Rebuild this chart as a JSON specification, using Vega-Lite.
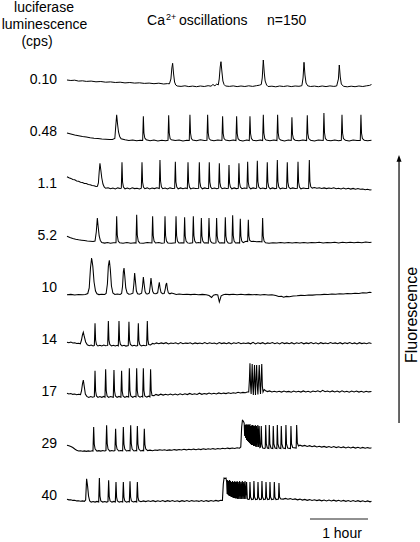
{
"$schema": "https://vega.github.io/schema/vega-lite/v6.json",
"width": 420, "height": 542, "autosize": {"type": "none"}, "padding": 0,
"config": {"view": {"stroke": null}, "text": {"font": "Liberation Sans", "fontSize": 14, "color": "#000"}},
"datasets": {
"labels": [{"k":0,"name":"0.10"},{"k":1,"name":"0.48"},{"k":2,"name":"1.1"},{"k":3,"name":"5.2"},{"k":4,"name":"10"},{"k":5,"name":"14"},{"k":6,"name":"17"},{"k":7,"name":"29"},{"k":8,"name":"40"}],
"traces": [
{"k":0,"t":0,"f":8},{"k":0,"t":4,"f":7.5},{"k":0,"t":8,"f":7.8},{"k":0,"t":12,"f":6.9},{"k":0,"t":16,"f":7.2},{"k":0,"t":20,"f":6.6},{"k":0,"t":25,"f":6.9},{"k":0,"t":30,"f":6.2},{"k":0,"t":35,"f":6.5},{"k":0,"t":40,"f":5.8},{"k":0,"t":45,"f":6.1},{"k":0,"t":50,"f":5.5},{"k":0,"t":55,"f":5.8},{"k":0,"t":60,"f":5.1},{"k":0,"t":65,"f":5.5},{"k":0,"t":70,"f":4.9},{"k":0,"t":75,"f":5.2},{"k":0,"t":80,"f":4.6},{"k":0,"t":85,"f":4.9},{"k":0,"t":90,"f":4.3},{"k":0,"t":95,"f":4.8},{"k":0,"t":100,"f":4.0},{"k":0,"t":104,"f":4.4},{"k":0,"t":106,"f":4.2},{"k":0,"t":107.5,"f":9},{"k":0,"t":108.5,"f":20},{"k":0,"t":109.3,"f":24.7},{"k":0,"t":110.3,"f":14},{"k":0,"t":111.3,"f":6},{"k":0,"t":112.5,"f":3},{"k":0,"t":114,"f":2},{"k":0,"t":118,"f":1.6},{"k":0,"t":122,"f":2.2},{"k":0,"t":126,"f":1.4},{"k":0,"t":130,"f":1.9},{"k":0,"t":134,"f":1.3},{"k":0,"t":138,"f":2},{"k":0,"t":142,"f":1.5},{"k":0,"t":146,"f":2.3},{"k":0,"t":149,"f":1.8},{"k":0,"t":151,"f":3.5},{"k":0,"t":153,"f":2.2},{"k":0,"t":155,"f":4},{"k":0,"t":156.5,"f":3},{"k":0,"t":157.5,"f":9},{"k":0,"t":158.5,"f":21},{"k":0,"t":159.3,"f":26.3},{"k":0,"t":160.3,"f":16},{"k":0,"t":161.3,"f":7},{"k":0,"t":162.5,"f":3.5},{"k":0,"t":164,"f":2},{"k":0,"t":168,"f":1.6},{"k":0,"t":172,"f":2.1},{"k":0,"t":176,"f":1.4},{"k":0,"t":180,"f":2},{"k":0,"t":184,"f":1.5},{"k":0,"t":188,"f":2.2},{"k":0,"t":192,"f":1.6},{"k":0,"t":196,"f":2.3},{"k":0,"t":199,"f":2.8},{"k":0,"t":201,"f":3.5},{"k":0,"t":202,"f":10},{"k":0,"t":203.1,"f":28},{"k":0,"t":204.1,"f":15},{"k":0,"t":205,"f":7},{"k":0,"t":206.5,"f":3},{"k":0,"t":208,"f":1.5},{"k":0,"t":212,"f":1.8},{"k":0,"t":216,"f":1.2},{"k":0,"t":220,"f":2},{"k":0,"t":224,"f":1.5},{"k":0,"t":228,"f":2.1},{"k":0,"t":232,"f":1.4},{"k":0,"t":236,"f":2},{"k":0,"t":240,"f":1.7},{"k":0,"t":243,"f":2.3},{"k":0,"t":244.2,"f":10},{"k":0,"t":245.2,"f":25.7},{"k":0,"t":246.2,"f":13},{"k":0,"t":247.3,"f":5},{"k":0,"t":249,"f":2.2},{"k":0,"t":252,"f":1.5},{"k":0,"t":256,"f":1.9},{"k":0,"t":260,"f":1.3},{"k":0,"t":264,"f":2},{"k":0,"t":268,"f":1.4},{"k":0,"t":272,"f":2.1},{"k":0,"t":276,"f":1.6},{"k":0,"t":279,"f":2},{"k":0,"t":280.8,"f":9},{"k":0,"t":281.7,"f":23},{"k":0,"t":282.7,"f":11},{"k":0,"t":283.8,"f":4},{"k":0,"t":286,"f":1.7},{"k":0,"t":290,"f":1.2},{"k":0,"t":294,"f":1.8},{"k":0,"t":298,"f":1.3},{"k":0,"t":302,"f":2},{"k":0,"t":306,"f":1.5},{"k":0,"t":310,"f":2.2},{"k":0,"t":313,"f":2.6},{"k":0,"t":315,"f":3.5},

{"k":1,"t":0,"f":7},{"k":1,"t":4,"f":6},{"k":1,"t":8,"f":5},{"k":1,"t":12,"f":4.3},{"k":1,"t":16,"f":3.4},{"k":1,"t":20,"f":2.9},{"k":1,"t":24,"f":2.2},{"k":1,"t":28,"f":1.7},{"k":1,"t":32,"f":1.4},{"k":1,"t":36,"f":0.9},{"k":1,"t":40,"f":0.7},{"k":1,"t":44,"f":0.4},{"k":1,"t":47,"f":0.6},{"k":1,"t":49.5,"f":1.5},{"k":1,"t":50.3,"f":12},{"k":1,"t":51.4,"f":25.3},{"k":1,"t":52.3,"f":16},{"k":1,"t":53.3,"f":8},{"k":1,"t":54.5,"f":3.5},{"k":1,"t":56,"f":1.2},{"k":1,"t":60,"f":0.2},{"k":1,"t":64,"f":-0.6},{"k":1,"t":68,"f":0.1},{"k":1,"t":72,"f":-0.8},{"k":1,"t":76,"f":-0.2},{"k":1,"t":78.3,"f":-0.5},{"k":1,"t":79,"f":23.7},{"k":1,"t":79.6,"f":7},{"k":1,"t":80.5,"f":2},{"k":1,"t":82,"f":0.3},{"k":1,"t":86,"f":-0.8},{"k":1,"t":90,"f":0},{"k":1,"t":94,"f":-0.9},{"k":1,"t":98,"f":-0.2},{"k":1,"t":102,"f":-0.7},{"k":1,"t":104.5,"f":-0.3},{"k":1,"t":105.2,"f":24.7},{"k":1,"t":105.8,"f":7},{"k":1,"t":106.7,"f":1.5},{"k":1,"t":108,"f":0.2},{"k":1,"t":112,"f":-0.6},{"k":1,"t":116,"f":0.1},{"k":1,"t":120,"f":-0.9},{"k":1,"t":124,"f":-0.2},{"k":1,"t":126.5,"f":-0.5},{"k":1,"t":127.2,"f":25.3},{"k":1,"t":127.8,"f":7},{"k":1,"t":128.7,"f":1.5},{"k":1,"t":130,"f":0},{"k":1,"t":134,"f":-0.7},{"k":1,"t":138,"f":0.2},{"k":1,"t":142,"f":-0.6},{"k":1,"t":144.8,"f":-0.2},{"k":1,"t":145.5,"f":25.3},{"k":1,"t":146.1,"f":7},{"k":1,"t":147,"f":1.5},{"k":1,"t":148.5,"f":0},{"k":1,"t":152,"f":-0.7},{"k":1,"t":156,"f":0.1},{"k":1,"t":160.3,"f":-0.5},{"k":1,"t":161,"f":23.7},{"k":1,"t":161.6,"f":6.5},{"k":1,"t":162.5,"f":1.5},{"k":1,"t":164,"f":0},{"k":1,"t":168,"f":-0.8},{"k":1,"t":172,"f":-0.1},{"k":1,"t":174.8,"f":-0.6},{"k":1,"t":175.5,"f":23.7},{"k":1,"t":176.1,"f":6.5},{"k":1,"t":177,"f":1.3},{"k":1,"t":178.5,"f":-0.2},{"k":1,"t":182,"f":-0.9},{"k":1,"t":186,"f":0},{"k":1,"t":188.6,"f":-0.6},{"k":1,"t":189.3,"f":23.7},{"k":1,"t":189.9,"f":6.5},{"k":1,"t":190.8,"f":1.4},{"k":1,"t":192.3,"f":-0.2},{"k":1,"t":196,"f":-0.8},{"k":1,"t":200,"f":0.1},{"k":1,"t":202.4,"f":-0.5},{"k":1,"t":203.1,"f":25.3},{"k":1,"t":203.7,"f":7},{"k":1,"t":204.6,"f":1.5},{"k":1,"t":206,"f":0},{"k":1,"t":210,"f":-0.7},{"k":1,"t":214,"f":0.1},{"k":1,"t":217.2,"f":-0.6},{"k":1,"t":217.9,"f":25.3},{"k":1,"t":218.5,"f":7},{"k":1,"t":219.4,"f":1.5},{"k":1,"t":221,"f":-0.1},{"k":1,"t":225,"f":-0.9},{"k":1,"t":229,"f":0},{"k":1,"t":232,"f":-0.5},{"k":1,"t":232.7,"f":22.7},{"k":1,"t":233.3,"f":6},{"k":1,"t":234.2,"f":1.3},{"k":1,"t":236,"f":-0.2},{"k":1,"t":240,"f":-0.8},{"k":1,"t":244,"f":0.1},{"k":1,"t":247.9,"f":-0.6},{"k":1,"t":248.6,"f":24.7},{"k":1,"t":249.2,"f":6.5},{"k":1,"t":250.1,"f":1.4},{"k":1,"t":252,"f":-0.2},{"k":1,"t":256,"f":-0.9},{"k":1,"t":260,"f":0},{"k":1,"t":265.1,"f":-0.5},{"k":1,"t":265.8,"f":27},{"k":1,"t":266.4,"f":7.5},{"k":1,"t":267.3,"f":1.5},{"k":1,"t":269,"f":-0.2},{"k":1,"t":273,"f":-0.8},{"k":1,"t":277,"f":0},{"k":1,"t":281,"f":-0.7},{"k":1,"t":283.8,"f":-0.3},{"k":1,"t":284.5,"f":25.3},{"k":1,"t":285.1,"f":7},{"k":1,"t":286,"f":1.4},{"k":1,"t":288,"f":-0.2},{"k":1,"t":292,"f":-0.9},{"k":1,"t":296,"f":0},{"k":1,"t":300,"f":-0.6},{"k":1,"t":303.4,"f":-0.4},{"k":1,"t":304.1,"f":25.3},{"k":1,"t":304.7,"f":7},{"k":1,"t":305.6,"f":1.4},{"k":1,"t":307.5,"f":-0.2},{"k":1,"t":311,"f":-0.7},{"k":1,"t":315,"f":-0.3},

{"k":2,"t":0,"f":15.3},{"k":2,"t":2,"f":14.3},{"k":2,"t":4,"f":13.6},{"k":2,"t":6,"f":12.6},{"k":2,"t":8,"f":12.2},{"k":2,"t":10,"f":11.1},{"k":2,"t":12,"f":10.8},{"k":2,"t":14,"f":9.8},{"k":2,"t":16,"f":9.5},{"k":2,"t":18,"f":8.6},{"k":2,"t":20,"f":8.4},{"k":2,"t":22,"f":7.5},{"k":2,"t":24,"f":7.3},{"k":2,"t":26,"f":6.5},{"k":2,"t":28,"f":6.3},{"k":2,"t":30,"f":5.5},{"k":2,"t":31.5,"f":5.8},{"k":2,"t":32.5,"f":9},{"k":2,"t":33.3,"f":20},{"k":2,"t":34.1,"f":28.7},{"k":2,"t":35,"f":22},{"k":2,"t":36,"f":14},{"k":2,"t":37.2,"f":8},{"k":2,"t":38.5,"f":5},{"k":2,"t":40,"f":3.7},{"k":2,"t":42.5,"f":4.2},{"k":2,"t":45,"f":3.3},{"k":2,"t":47.5,"f":3.9},{"k":2,"t":50,"f":3.1},{"k":2,"t":52.5,"f":4.1},{"k":2,"t":55,"f":3.5},{"k":2,"t":56.2,"f":3.8},{"k":2,"t":56.9,"f":29.7},{"k":2,"t":57.5,"f":10},{"k":2,"t":58.4,"f":5},{"k":2,"t":60,"f":3.2},{"k":2,"t":62.5,"f":4},{"k":2,"t":65,"f":3},{"k":2,"t":67.5,"f":4.2},{"k":2,"t":70,"f":3.4},{"k":2,"t":72.5,"f":3.8},{"k":2,"t":75,"f":3.1},{"k":2,"t":76.9,"f":3.8},{"k":2,"t":77.6,"f":29.7},{"k":2,"t":78.2,"f":10},{"k":2,"t":79.1,"f":5},{"k":2,"t":80.5,"f":3.3},{"k":2,"t":83,"f":4.1},{"k":2,"t":85.5,"f":3.1},{"k":2,"t":88,"f":3.9},{"k":2,"t":90.5,"f":3.4},{"k":2,"t":93,"f":4.2},{"k":2,"t":95.5,"f":3.5},{"k":2,"t":96.2,"f":32},{"k":2,"t":96.8,"f":11},{"k":2,"t":97.7,"f":5.2},{"k":2,"t":99,"f":3.3},{"k":2,"t":101.5,"f":4},{"k":2,"t":104,"f":3.1},{"k":2,"t":106.5,"f":4.1},{"k":2,"t":109,"f":3.4},{"k":2,"t":111.4,"f":3.6},{"k":2,"t":112.1,"f":30.3},{"k":2,"t":112.7,"f":10},{"k":2,"t":113.6,"f":5},{"k":2,"t":115,"f":3.2},{"k":2,"t":117.5,"f":4.1},{"k":2,"t":120,"f":3.3},{"k":2,"t":122.5,"f":3.9},{"k":2,"t":124.5,"f":3.4},{"k":2,"t":125.2,"f":29.7},{"k":2,"t":125.8,"f":10},{"k":2,"t":126.7,"f":5},{"k":2,"t":128,"f":3.1},{"k":2,"t":130.5,"f":4},{"k":2,"t":133,"f":3.4},{"k":2,"t":136.2,"f":3.8},{"k":2,"t":136.9,"f":29.7},{"k":2,"t":137.5,"f":10},{"k":2,"t":138.4,"f":5},{"k":2,"t":140,"f":3.2},{"k":2,"t":142.5,"f":4.1},{"k":2,"t":144.5,"f":3.5},{"k":2,"t":146.5,"f":3.6},{"k":2,"t":147.2,"f":29.7},{"k":2,"t":147.8,"f":10},{"k":2,"t":148.7,"f":5},{"k":2,"t":150,"f":3.3},{"k":2,"t":152.5,"f":4},{"k":2,"t":155,"f":3.2},{"k":2,"t":156.9,"f":3.8},{"k":2,"t":157.6,"f":28.7},{"k":2,"t":158.2,"f":9.5},{"k":2,"t":159.1,"f":5},{"k":2,"t":160.5,"f":3.3},{"k":2,"t":163,"f":3.9},{"k":2,"t":165,"f":3.4},{"k":2,"t":166.9,"f":3.7},{"k":2,"t":167.6,"f":27},{"k":2,"t":168.2,"f":9},{"k":2,"t":169.1,"f":5},{"k":2,"t":170.5,"f":3.2},{"k":2,"t":173,"f":4.1},{"k":2,"t":175,"f":3.4},{"k":2,"t":177.2,"f":3.8},{"k":2,"t":177.9,"f":28.7},{"k":2,"t":178.5,"f":9.5},{"k":2,"t":179.4,"f":5},{"k":2,"t":181,"f":3.3},{"k":2,"t":183.5,"f":4},{"k":2,"t":186.2,"f":3.5},{"k":2,"t":186.9,"f":30.3},{"k":2,"t":187.5,"f":10},{"k":2,"t":188.4,"f":5},{"k":2,"t":190,"f":3.2},{"k":2,"t":192.5,"f":4.1},{"k":2,"t":195.2,"f":3.5},{"k":2,"t":196.2,"f":3.8},{"k":2,"t":196.9,"f":31.3},{"k":2,"t":197.5,"f":10.5},{"k":2,"t":198.4,"f":5},{"k":2,"t":200,"f":3.3},{"k":2,"t":202.5,"f":4},{"k":2,"t":205,"f":3.4},{"k":2,"t":206.5,"f":3.7},{"k":2,"t":207.2,"f":29.7},{"k":2,"t":207.8,"f":10},{"k":2,"t":208.7,"f":5},{"k":2,"t":210.2,"f":3.2},{"k":2,"t":212.7,"f":4.1},{"k":2,"t":215,"f":3.4},{"k":2,"t":216.9,"f":3.7},{"k":2,"t":217.6,"f":32},{"k":2,"t":218.2,"f":10.5},{"k":2,"t":219.1,"f":5},{"k":2,"t":220.6,"f":3.2},{"k":2,"t":223,"f":4},{"k":2,"t":225.5,"f":3.5},{"k":2,"t":227.2,"f":3.8},{"k":2,"t":227.9,"f":29.7},{"k":2,"t":228.5,"f":10},{"k":2,"t":229.4,"f":5},{"k":2,"t":231,"f":3.3},{"k":2,"t":233.5,"f":4.1},{"k":2,"t":236,"f":3.4},{"k":2,"t":238.3,"f":3.7},{"k":2,"t":239,"f":30.3},{"k":2,"t":239.6,"f":10},{"k":2,"t":240.5,"f":5},{"k":2,"t":242,"f":3.2},{"k":2,"t":244.5,"f":4},{"k":2,"t":247,"f":3.4},{"k":2,"t":250,"f":3.6},{"k":2,"t":250.7,"f":32},{"k":2,"t":251.3,"f":10.5},{"k":2,"t":252.2,"f":5.2},{"k":2,"t":253.7,"f":3.9},{"k":2,"t":256,"f":4.5},{"k":2,"t":258.5,"f":3.8},{"k":2,"t":261,"f":4.3},{"k":2,"t":263.5,"f":3.6},{"k":2,"t":266,"f":4.1},{"k":2,"t":268.5,"f":3.4},{"k":2,"t":271,"f":4},{"k":2,"t":273.5,"f":3.5},{"k":2,"t":276,"f":4.2},{"k":2,"t":278.5,"f":3.3},{"k":2,"t":281,"f":3.8},{"k":2,"t":283.5,"f":3.1},{"k":2,"t":286,"f":3.9},{"k":2,"t":288.5,"f":3},{"k":2,"t":291,"f":3.7},{"k":2,"t":293.5,"f":2.9},{"k":2,"t":296,"f":3.6},{"k":2,"t":298.5,"f":2.7},{"k":2,"t":301,"f":3.4},{"k":2,"t":303.5,"f":2.8},{"k":2,"t":306,"f":3.1},{"k":2,"t":308.5,"f":2.3},{"k":2,"t":311,"f":2.7},{"k":2,"t":313.5,"f":2},{"k":2,"t":315,"f":2.2},

{"k":3,"t":0,"f":7.7},{"k":3,"t":3,"f":6.5},{"k":3,"t":6,"f":5.6},{"k":3,"t":9,"f":4.8},{"k":3,"t":12,"f":4.2},{"k":3,"t":15,"f":3.8},{"k":3,"t":18,"f":3.4},{"k":3,"t":21,"f":3},{"k":3,"t":24,"f":2.8},{"k":3,"t":27,"f":2.6},{"k":3,"t":29,"f":2.9},{"k":3,"t":30.3,"f":12},{"k":3,"t":31.4,"f":26},{"k":3,"t":32.3,"f":17},{"k":3,"t":33.3,"f":8},{"k":3,"t":34.5,"f":3.5},{"k":3,"t":36,"f":1.5},{"k":3,"t":39,"f":0.9},{"k":3,"t":42,"f":1.4},{"k":3,"t":45,"f":0.8},{"k":3,"t":48,"f":1.3},{"k":3,"t":50.7,"f":1.2},{"k":3,"t":51.4,"f":27.7},{"k":3,"t":52,"f":9},{"k":3,"t":53,"f":3},{"k":3,"t":54.5,"f":1.2},{"k":3,"t":58,"f":0.8},{"k":3,"t":62,"f":1.4},{"k":3,"t":66,"f":0.7},{"k":3,"t":70,"f":1.3},{"k":3,"t":71.4,"f":1},{"k":3,"t":72.1,"f":29.3},{"k":3,"t":72.7,"f":9},{"k":3,"t":73.7,"f":3},{"k":3,"t":75.2,"f":1.1},{"k":3,"t":79,"f":0.7},{"k":3,"t":83,"f":1.4},{"k":3,"t":87.9,"f":1},{"k":3,"t":88.6,"f":27.7},{"k":3,"t":89.2,"f":8.5},{"k":3,"t":90.1,"f":3},{"k":3,"t":91.6,"f":1},{"k":3,"t":95,"f":1.4},{"k":3,"t":98,"f":0.7},{"k":3,"t":100.7,"f":1.1},{"k":3,"t":101.4,"f":27.7},{"k":3,"t":102,"f":8.5},{"k":3,"t":102.9,"f":3},{"k":3,"t":104.4,"f":1.1},{"k":3,"t":108,"f":0.8},{"k":3,"t":112.1,"f":1.2},{"k":3,"t":112.8,"f":27.7},{"k":3,"t":113.4,"f":8.5},{"k":3,"t":114.3,"f":3},{"k":3,"t":115.8,"f":1},{"k":3,"t":119,"f":1.3},{"k":3,"t":121,"f":1},{"k":3,"t":121.7,"f":26.7},{"k":3,"t":122.3,"f":8},{"k":3,"t":123.2,"f":3},{"k":3,"t":124.7,"f":1.1},{"k":3,"t":127,"f":0.7},{"k":3,"t":130,"f":1.2},{"k":3,"t":130.7,"f":27.7},{"k":3,"t":131.3,"f":8.5},{"k":3,"t":132.2,"f":3},{"k":3,"t":133.7,"f":1},{"k":3,"t":136,"f":1.4},{"k":3,"t":138.3,"f":1},{"k":3,"t":139,"f":26},{"k":3,"t":139.6,"f":8},{"k":3,"t":140.5,"f":3},{"k":3,"t":142,"f":1},{"k":3,"t":144,"f":1.3},{"k":3,"t":146.2,"f":0.9},{"k":3,"t":146.9,"f":26},{"k":3,"t":147.5,"f":8},{"k":3,"t":148.4,"f":3},{"k":3,"t":149.9,"f":1.2},{"k":3,"t":152,"f":0.8},{"k":3,"t":154.1,"f":1.1},{"k":3,"t":154.8,"f":26},{"k":3,"t":155.4,"f":8},{"k":3,"t":156.3,"f":3},{"k":3,"t":157.8,"f":1},{"k":3,"t":160,"f":1.3},{"k":3,"t":163.1,"f":1},{"k":3,"t":163.8,"f":26.7},{"k":3,"t":164.4,"f":8},{"k":3,"t":165.3,"f":3},{"k":3,"t":166.8,"f":1.1},{"k":3,"t":169,"f":0.8},{"k":3,"t":170.7,"f":1.2},{"k":3,"t":171.4,"f":28.7},{"k":3,"t":172,"f":8.5},{"k":3,"t":172.9,"f":3},{"k":3,"t":174.4,"f":1},{"k":3,"t":177,"f":1.3},{"k":3,"t":178.6,"f":1},{"k":3,"t":179.3,"f":25.3},{"k":3,"t":179.9,"f":8},{"k":3,"t":180.8,"f":3},{"k":3,"t":182.3,"f":1.3},{"k":3,"t":184,"f":2.2},{"k":3,"t":185.5,"f":2.8},{"k":3,"t":186.9,"f":2.5},{"k":3,"t":187.6,"f":24.3},{"k":3,"t":188.2,"f":8},{"k":3,"t":189.1,"f":3.5},{"k":3,"t":190.6,"f":2.5},{"k":3,"t":193,"f":2.8},{"k":3,"t":196,"f":2.2},{"k":3,"t":199,"f":2.4},{"k":3,"t":201.7,"f":2},{"k":3,"t":202.4,"f":26},{"k":3,"t":203,"f":8},{"k":3,"t":203.9,"f":3},{"k":3,"t":205.4,"f":1.2},{"k":3,"t":209,"f":0.8},{"k":3,"t":213,"f":1.3},{"k":3,"t":217,"f":0.9},{"k":3,"t":221,"f":1.4},{"k":3,"t":225,"f":1},{"k":3,"t":229,"f":1.5},{"k":3,"t":233,"f":1},{"k":3,"t":237,"f":1.4},{"k":3,"t":241,"f":0.9},{"k":3,"t":245,"f":1.5},{"k":3,"t":249,"f":1.1},{"k":3,"t":253,"f":1.6},{"k":3,"t":257,"f":1.2},{"k":3,"t":261,"f":1.7},{"k":3,"t":265,"f":1.1},{"k":3,"t":269,"f":1.6},{"k":3,"t":273,"f":1.2},{"k":3,"t":277,"f":1.7},{"k":3,"t":281,"f":1.1},{"k":3,"t":285,"f":1.8},{"k":3,"t":289,"f":1.3},{"k":3,"t":293,"f":1.7},{"k":3,"t":297,"f":1.2},{"k":3,"t":301,"f":1.8},{"k":3,"t":305,"f":1.3},{"k":3,"t":309,"f":1.9},{"k":3,"t":313,"f":1.5},{"k":3,"t":315,"f":1.8},

{"k":4,"t":0,"f":1.3},{"k":4,"t":4,"f":1.6},{"k":4,"t":8,"f":1.1},{"k":4,"t":12,"f":1.5},{"k":4,"t":16,"f":1.2},{"k":4,"t":19,"f":1.6},{"k":4,"t":21.5,"f":2.5},{"k":4,"t":23,"f":8},{"k":4,"t":24.3,"f":28},{"k":4,"t":25.5,"f":38},{"k":4,"t":26.7,"f":30},{"k":4,"t":28,"f":14},{"k":4,"t":29.5,"f":5},{"k":4,"t":31,"f":2.2},{"k":4,"t":33,"f":1.4},{"k":4,"t":36,"f":1.8},{"k":4,"t":39,"f":1.5},{"k":4,"t":40.5,"f":2.5},{"k":4,"t":41.8,"f":12},{"k":4,"t":42.8,"f":30},{"k":4,"t":43.8,"f":35.7},{"k":4,"t":44.8,"f":27},{"k":4,"t":46,"f":10},{"k":4,"t":47.5,"f":3},{"k":4,"t":49.5,"f":1.6},{"k":4,"t":52,"f":1.9},{"k":4,"t":55,"f":1.6},{"k":4,"t":56.5,"f":2.5},{"k":4,"t":57.5,"f":10},{"k":4,"t":58.3,"f":24},{"k":4,"t":59,"f":28},{"k":4,"t":59.8,"f":20},{"k":4,"t":60.8,"f":8},{"k":4,"t":62.2,"f":3},{"k":4,"t":64,"f":1.8},{"k":4,"t":66,"f":2},{"k":4,"t":68.2,"f":2.8},{"k":4,"t":69.2,"f":12},{"k":4,"t":70,"f":23},{"k":4,"t":70.8,"f":15},{"k":4,"t":71.8,"f":5},{"k":4,"t":73,"f":2.2},{"k":4,"t":75,"f":1.8},{"k":4,"t":77.2,"f":2.8},{"k":4,"t":78.2,"f":10},{"k":4,"t":79,"f":19},{"k":4,"t":79.8,"f":12},{"k":4,"t":80.8,"f":4.5},{"k":4,"t":82,"f":2.3},{"k":4,"t":83.5,"f":2},{"k":4,"t":85.2,"f":3},{"k":4,"t":86.1,"f":10},{"k":4,"t":86.9,"f":18},{"k":4,"t":87.7,"f":11},{"k":4,"t":88.7,"f":4.5},{"k":4,"t":90,"f":2.5},{"k":4,"t":92,"f":2.2},{"k":4,"t":93.8,"f":3.2},{"k":4,"t":94.7,"f":9},{"k":4,"t":95.5,"f":13.7},{"k":4,"t":96.3,"f":8},{"k":4,"t":97.3,"f":3.5},{"k":4,"t":98.8,"f":2.3},{"k":4,"t":100.5,"f":2.5},{"k":4,"t":101.5,"f":6},{"k":4,"t":102.3,"f":11},{"k":4,"t":103.1,"f":13},{"k":4,"t":103.9,"f":7},{"k":4,"t":104.9,"f":3},{"k":4,"t":106.5,"f":2.2},{"k":4,"t":108,"f":3},{"k":4,"t":110,"f":2.5},{"k":4,"t":113,"f":1.6},{"k":4,"t":116,"f":1.9},{"k":4,"t":120,"f":1.5},{"k":4,"t":124,"f":1.8},{"k":4,"t":128,"f":1.4},{"k":4,"t":132,"f":1.7},{"k":4,"t":136,"f":1.3},{"k":4,"t":140,"f":1.6},{"k":4,"t":144,"f":1.2},{"k":4,"t":147,"f":0.5},{"k":4,"t":149.6,"f":-1.5},{"k":4,"t":151.5,"f":0.8},{"k":4,"t":154,"f":1.4},{"k":4,"t":156,"f":1},{"k":4,"t":157.6,"f":-6},{"k":4,"t":159.5,"f":0.2},{"k":4,"t":161.7,"f":1.2},{"k":4,"t":164,"f":1.8},{"k":4,"t":168,"f":1.4},{"k":4,"t":172,"f":1.8},{"k":4,"t":176,"f":1.3},{"k":4,"t":180,"f":1.7},{"k":4,"t":184,"f":1.2},{"k":4,"t":188,"f":1.6},{"k":4,"t":192,"f":1.2},{"k":4,"t":196,"f":1.5},{"k":4,"t":200,"f":1.1},{"k":4,"t":204,"f":1.4},{"k":4,"t":208,"f":1},{"k":4,"t":212,"f":1.2},{"k":4,"t":216,"f":0.5},{"k":4,"t":219,"f":-0.5},{"k":4,"t":222,"f":-0.2},{"k":4,"t":224,"f":-1.2},{"k":4,"t":227,"f":-0.4},{"k":4,"t":230,"f":-0.8},{"k":4,"t":234,"f":0},{"k":4,"t":238,"f":0.2},{"k":4,"t":242,"f":0.6},{"k":4,"t":246,"f":0.5},{"k":4,"t":250,"f":1},{"k":4,"t":254,"f":0.9},{"k":4,"t":258,"f":1.3},{"k":4,"t":262,"f":1.2},{"k":4,"t":266,"f":1.6},{"k":4,"t":270,"f":1.5},{"k":4,"t":274,"f":1.9},{"k":4,"t":278,"f":1.7},{"k":4,"t":282,"f":2.2},{"k":4,"t":286,"f":2},{"k":4,"t":290,"f":2.4},{"k":4,"t":294,"f":2.3},{"k":4,"t":298,"f":2.8},{"k":4,"t":302,"f":2.6},{"k":4,"t":306,"f":3.2},{"k":4,"t":310,"f":3},{"k":4,"t":313,"f":3.8},{"k":4,"t":315,"f":3.6},

{"k":5,"t":0,"f":5.7},{"k":5,"t":2,"f":5.2},{"k":5,"t":4,"f":5.9},{"k":5,"t":6,"f":5},{"k":5,"t":8,"f":5.3},{"k":5,"t":10,"f":4.5},{"k":5,"t":12,"f":4.7},{"k":5,"t":13.8,"f":4.2},{"k":5,"t":15,"f":8},{"k":5,"t":16,"f":13},{"k":5,"t":16.9,"f":15.7},{"k":5,"t":18,"f":11},{"k":5,"t":19.3,"f":6},{"k":5,"t":21,"f":3.2},{"k":5,"t":23,"f":2.3},{"k":5,"t":25,"f":2.9},{"k":5,"t":27,"f":2.1},{"k":5,"t":28.3,"f":2.6},{"k":5,"t":29,"f":24.7},{"k":5,"t":29.6,"f":8},{"k":5,"t":30.5,"f":3.5},{"k":5,"t":32,"f":2},{"k":5,"t":34,"f":2.7},{"k":5,"t":36,"f":2},{"k":5,"t":38,"f":2.9},{"k":5,"t":40,"f":2.2},{"k":5,"t":42.1,"f":2.6},{"k":5,"t":42.8,"f":27},{"k":5,"t":43.4,"f":8},{"k":5,"t":44.3,"f":3.5},{"k":5,"t":46,"f":2.1},{"k":5,"t":48,"f":2.8},{"k":5,"t":50,"f":2},{"k":5,"t":52,"f":2.7},{"k":5,"t":53.1,"f":2.2},{"k":5,"t":53.8,"f":27},{"k":5,"t":54.4,"f":8},{"k":5,"t":55.3,"f":3.5},{"k":5,"t":57,"f":2},{"k":5,"t":59,"f":2.7},{"k":5,"t":61,"f":1.9},{"k":5,"t":63.4,"f":2.5},{"k":5,"t":64.1,"f":26.3},{"k":5,"t":64.7,"f":8},{"k":5,"t":65.6,"f":3.5},{"k":5,"t":67.5,"f":2},{"k":5,"t":69.5,"f":2.8},{"k":5,"t":71.5,"f":2.1},{"k":5,"t":73.1,"f":2.5},{"k":5,"t":73.8,"f":24.7},{"k":5,"t":74.4,"f":7.5},{"k":5,"t":75.3,"f":3.3},{"k":5,"t":77,"f":2},{"k":5,"t":79,"f":2.7},{"k":5,"t":81,"f":2.2},{"k":5,"t":82.4,"f":2.6},{"k":5,"t":83.1,"f":27},{"k":5,"t":83.7,"f":8},{"k":5,"t":84.6,"f":3.5},{"k":5,"t":86.5,"f":3},{"k":5,"t":88.5,"f":4.6},{"k":5,"t":90.5,"f":4.1},{"k":5,"t":92.5,"f":5.1},{"k":5,"t":95,"f":4.2},{"k":5,"t":97.5,"f":5.1},{"k":5,"t":100,"f":4.4},{"k":5,"t":102.5,"f":5.3},{"k":5,"t":105,"f":4},{"k":5,"t":107.5,"f":5},{"k":5,"t":110,"f":4.5},{"k":5,"t":112.5,"f":5.2},{"k":5,"t":115,"f":4.1},{"k":5,"t":117.5,"f":5.4},{"k":5,"t":120,"f":4.3},{"k":5,"t":122.5,"f":4.9},{"k":5,"t":125,"f":4.6},{"k":5,"t":127.5,"f":5.3},{"k":5,"t":130,"f":4},{"k":5,"t":132.5,"f":5.1},{"k":5,"t":135,"f":4.4},{"k":5,"t":137.5,"f":5},{"k":5,"t":140,"f":4.2},{"k":5,"t":142.5,"f":5.4},{"k":5,"t":145,"f":4.3},{"k":5,"t":147.5,"f":5.2},{"k":5,"t":150,"f":4.5},{"k":5,"t":152.5,"f":5},{"k":5,"t":155,"f":4.1},{"k":5,"t":157.5,"f":5.5},{"k":5,"t":160,"f":4.4},{"k":5,"t":162.5,"f":5.1},{"k":5,"t":165,"f":4.2},{"k":5,"t":167.5,"f":5.3},{"k":5,"t":170,"f":4},{"k":5,"t":172.5,"f":5.2},{"k":5,"t":175,"f":4.5},{"k":5,"t":177.5,"f":5.4},{"k":5,"t":180,"f":4.2},{"k":5,"t":182.5,"f":5},{"k":5,"t":185,"f":4.6},{"k":5,"t":187.5,"f":5.1},{"k":5,"t":190,"f":4.2},{"k":5,"t":192.5,"f":5.6},{"k":5,"t":195,"f":4.1},{"k":5,"t":197.5,"f":5.2},{"k":5,"t":200,"f":4.4},{"k":5,"t":202.5,"f":5.3},{"k":5,"t":205,"f":4},{"k":5,"t":207.5,"f":5.1},{"k":5,"t":210,"f":4.5},{"k":5,"t":212.5,"f":5.4},{"k":5,"t":215,"f":4.3},{"k":5,"t":217.5,"f":5.2},{"k":5,"t":220,"f":4.1},{"k":5,"t":222.5,"f":5.5},{"k":5,"t":225,"f":4.4},{"k":5,"t":227.5,"f":5.1},{"k":5,"t":230,"f":4.3},{"k":5,"t":232.5,"f":5.3},{"k":5,"t":235,"f":4},{"k":5,"t":237.5,"f":5.2},{"k":5,"t":240,"f":4.5},{"k":5,"t":242.5,"f":5.4},{"k":5,"t":245,"f":4.2},{"k":5,"t":247.5,"f":5.1},{"k":5,"t":250,"f":4.4},{"k":5,"t":252.5,"f":5.5},{"k":5,"t":255,"f":4.3},{"k":5,"t":257.5,"f":5.2},{"k":5,"t":260,"f":4.1},{"k":5,"t":262.5,"f":5.3},{"k":5,"t":265,"f":4.4},{"k":5,"t":267.5,"f":5},{"k":5,"t":270,"f":4.2},{"k":5,"t":272.5,"f":5.4},{"k":5,"t":275,"f":4.5},{"k":5,"t":277.5,"f":5.1},{"k":5,"t":280,"f":4.3},{"k":5,"t":282.5,"f":5.3},{"k":5,"t":285,"f":4.2},{"k":5,"t":287.5,"f":5.2},{"k":5,"t":290,"f":4.4},{"k":5,"t":292.5,"f":5.4},{"k":5,"t":295,"f":4.3},{"k":5,"t":297.5,"f":5.1},{"k":5,"t":300,"f":4.1},{"k":5,"t":302.5,"f":5.3},{"k":5,"t":305,"f":4.4},{"k":5,"t":307.5,"f":5},{"k":5,"t":310,"f":4.2},{"k":5,"t":312.5,"f":5.2},{"k":5,"t":315,"f":4.6},

{"k":6,"t":0,"f":6.7},{"k":6,"t":2,"f":6},{"k":6,"t":4,"f":6.5},{"k":6,"t":6,"f":5.6},{"k":6,"t":8,"f":6},{"k":6,"t":10,"f":5.3},{"k":6,"t":12,"f":5.7},{"k":6,"t":14,"f":5.4},{"k":6,"t":15,"f":9},{"k":6,"t":16,"f":16},{"k":6,"t":16.9,"f":20},{"k":6,"t":17.8,"f":14},{"k":6,"t":19,"f":6},{"k":6,"t":20.5,"f":3.6},{"k":6,"t":22.5,"f":2.6},{"k":6,"t":24.5,"f":3.5},{"k":6,"t":26.5,"f":2.7},{"k":6,"t":28.3,"f":3.3},{"k":6,"t":29,"f":29.3},{"k":6,"t":29.6,"f":9},{"k":6,"t":30.5,"f":4},{"k":6,"t":32,"f":2.6},{"k":6,"t":34,"f":3.5},{"k":6,"t":36,"f":2.7},{"k":6,"t":38,"f":3.6},{"k":6,"t":39.3,"f":2.8},{"k":6,"t":40,"f":30.7},{"k":6,"t":40.6,"f":9.5},{"k":6,"t":41.5,"f":4},{"k":6,"t":43,"f":2.6},{"k":6,"t":45,"f":3.5},{"k":6,"t":47.9,"f":2.8},{"k":6,"t":48.6,"f":30},{"k":6,"t":49.2,"f":9},{"k":6,"t":50.1,"f":4},{"k":6,"t":51.8,"f":2.7},{"k":6,"t":53.8,"f":3.6},{"k":6,"t":55.8,"f":2.8},{"k":6,"t":56.5,"f":29.3},{"k":6,"t":57.1,"f":9},{"k":6,"t":58,"f":4},{"k":6,"t":59.8,"f":2.6},{"k":6,"t":61.8,"f":3.6},{"k":6,"t":63.8,"f":2.9},{"k":6,"t":64.5,"f":31.7},{"k":6,"t":65.1,"f":9.5},{"k":6,"t":66,"f":4},{"k":6,"t":68,"f":2.7},{"k":6,"t":70,"f":3.7},{"k":6,"t":71.4,"f":3},{"k":6,"t":72.1,"f":31.7},{"k":6,"t":72.7,"f":9.5},{"k":6,"t":73.6,"f":4},{"k":6,"t":75.5,"f":2.8},{"k":6,"t":77.5,"f":3.7},{"k":6,"t":78.3,"f":3.1},{"k":6,"t":79,"f":31.7},{"k":6,"t":79.6,"f":9.5},{"k":6,"t":80.5,"f":4},{"k":6,"t":82.5,"f":2.9},{"k":6,"t":84.5,"f":3.8},{"k":6,"t":85.8,"f":3.2},{"k":6,"t":86.5,"f":30.7},{"k":6,"t":87.1,"f":9.5},{"k":6,"t":88,"f":4.5},{"k":6,"t":90,"f":4.4},{"k":6,"t":92,"f":5.6},{"k":6,"t":94.5,"f":4.7},{"k":6,"t":97,"f":5.8},{"k":6,"t":99.5,"f":4.9},{"k":6,"t":102,"f":5.8},{"k":6,"t":104.5,"f":5},{"k":6,"t":107,"f":6},{"k":6,"t":109.5,"f":5.1},{"k":6,"t":112,"f":6},{"k":6,"t":114.5,"f":5.1},{"k":6,"t":117,"f":6.2},{"k":6,"t":119.5,"f":5.3},{"k":6,"t":122,"f":6.2},{"k":6,"t":124.5,"f":5.4},{"k":6,"t":127,"f":6.6},{"k":6,"t":129.5,"f":5.5},{"k":6,"t":132,"f":6.3},{"k":6,"t":134.5,"f":5.6},{"k":6,"t":137,"f":6.8},{"k":6,"t":139.5,"f":5.7},{"k":6,"t":142,"f":6.5},{"k":6,"t":144.5,"f":5.9},{"k":6,"t":147,"f":6.9},{"k":6,"t":149.5,"f":6},{"k":6,"t":152,"f":6.7},{"k":6,"t":154.5,"f":6.1},{"k":6,"t":157,"f":7.1},{"k":6,"t":159.5,"f":6.2},{"k":6,"t":162,"f":6.9},{"k":6,"t":164.5,"f":6.4},{"k":6,"t":167,"f":7.3},{"k":6,"t":169.5,"f":6.5},{"k":6,"t":172,"f":7.2},{"k":6,"t":174.5,"f":6.8},{"k":6,"t":177,"f":7.7},{"k":6,"t":179.5,"f":7},{"k":6,"t":182,"f":7.6},{"k":6,"t":184.5,"f":7.3},{"k":6,"t":186.5,"f":8},{"k":6,"t":188,"f":8},{"k":6,"t":188.7,"f":20},{"k":6,"t":189.3,"f":36.7},{"k":6,"t":189.9,"f":15},{"k":6,"t":190.5,"f":6},{"k":6,"t":191.1,"f":22},{"k":6,"t":191.6,"f":36},{"k":6,"t":192.2,"f":14},{"k":6,"t":192.8,"f":5},{"k":6,"t":193.4,"f":22},{"k":6,"t":194,"f":35},{"k":6,"t":194.5,"f":14},{"k":6,"t":195,"f":5},{"k":6,"t":195.6,"f":22},{"k":6,"t":196.2,"f":35},{"k":6,"t":196.9,"f":14},{"k":6,"t":197.5,"f":5.5},{"k":6,"t":198.2,"f":20},{"k":6,"t":198.9,"f":35},{"k":6,"t":199.6,"f":14},{"k":6,"t":200.2,"f":6},{"k":6,"t":200.8,"f":20},{"k":6,"t":201.5,"f":36},{"k":6,"t":202.1,"f":14},{"k":6,"t":202.8,"f":8},{"k":6,"t":204,"f":10.5},{"k":6,"t":205.5,"f":9.3},{"k":6,"t":207.5,"f":8.4},{"k":6,"t":209.5,"f":9.1},{"k":6,"t":212,"f":8},{"k":6,"t":214.5,"f":8.7},{"k":6,"t":217,"f":8},{"k":6,"t":219.5,"f":8.8},{"k":6,"t":222,"f":7.9},{"k":6,"t":224.5,"f":8.9},{"k":6,"t":227,"f":8.1},{"k":6,"t":229.5,"f":8.6},{"k":6,"t":232,"f":7.8},{"k":6,"t":234.5,"f":9},{"k":6,"t":237,"f":8.1},{"k":6,"t":239.5,"f":8.7},{"k":6,"t":242,"f":7.9},{"k":6,"t":244.5,"f":9.1},{"k":6,"t":247,"f":8},{"k":6,"t":249.5,"f":8.8},{"k":6,"t":252,"f":7.8},{"k":6,"t":254.5,"f":9},{"k":6,"t":257,"f":8.2},{"k":6,"t":259.5,"f":9.2},{"k":6,"t":262,"f":8.1},{"k":6,"t":264.5,"f":9.6},{"k":6,"t":267,"f":8.3},{"k":6,"t":269.5,"f":9},{"k":6,"t":272,"f":8.1},{"k":6,"t":274.5,"f":9.1},{"k":6,"t":277,"f":8},{"k":6,"t":279.5,"f":8.9},{"k":6,"t":282,"f":7.9},{"k":6,"t":284.5,"f":9.2},{"k":6,"t":287,"f":8.1},{"k":6,"t":289.5,"f":8.8},{"k":6,"t":292,"f":7.8},{"k":6,"t":294.5,"f":9},{"k":6,"t":297,"f":8},{"k":6,"t":299.5,"f":8.9},{"k":6,"t":302,"f":7.9},{"k":6,"t":304.5,"f":8.7},{"k":6,"t":307,"f":7.8},{"k":6,"t":309.5,"f":8.8},{"k":6,"t":312,"f":8.1},{"k":6,"t":315,"f":8.5},

{"k":7,"t":0,"f":6.7},{"k":7,"t":2,"f":6.2},{"k":7,"t":4,"f":5.5},{"k":7,"t":6,"f":4.5},{"k":7,"t":8,"f":3},{"k":7,"t":10,"f":1.8},{"k":7,"t":12,"f":1},{"k":7,"t":14,"f":1.3},{"k":7,"t":16,"f":0.7},{"k":7,"t":18,"f":1.1},{"k":7,"t":20,"f":0.6},{"k":7,"t":22,"f":1.1},{"k":7,"t":24,"f":0.7},{"k":7,"t":26,"f":1.2},{"k":7,"t":26.9,"f":1},{"k":7,"t":27.6,"f":25},{"k":7,"t":28.2,"f":8},{"k":7,"t":29.1,"f":3},{"k":7,"t":31,"f":0.9},{"k":7,"t":33,"f":1.4},{"k":7,"t":35,"f":0.9},{"k":7,"t":37,"f":1.5},{"k":7,"t":39,"f":1},{"k":7,"t":40.3,"f":1.4},{"k":7,"t":41,"f":26.7},{"k":7,"t":41.6,"f":8.5},{"k":7,"t":42.5,"f":3},{"k":7,"t":44.3,"f":0.9},{"k":7,"t":46.3,"f":1.5},{"k":7,"t":48.3,"f":1},{"k":7,"t":49.6,"f":1.4},{"k":7,"t":50.3,"f":23.3},{"k":7,"t":50.9,"f":7.5},{"k":7,"t":51.8,"f":3},{"k":7,"t":53.6,"f":1},{"k":7,"t":55.6,"f":1.5},{"k":7,"t":57.6,"f":1.2},{"k":7,"t":58.3,"f":25},{"k":7,"t":58.9,"f":8},{"k":7,"t":59.8,"f":3},{"k":7,"t":61.5,"f":1},{"k":7,"t":63.5,"f":1.5},{"k":7,"t":65.2,"f":1.1},{"k":7,"t":65.9,"f":26.7},{"k":7,"t":66.5,"f":8.5},{"k":7,"t":67.4,"f":3},{"k":7,"t":69.3,"f":1},{"k":7,"t":71.3,"f":1.5},{"k":7,"t":72.1,"f":1.2},{"k":7,"t":72.8,"f":26},{"k":7,"t":73.4,"f":8},{"k":7,"t":74.3,"f":3},{"k":7,"t":76.2,"f":1},{"k":7,"t":78.2,"f":1.6},{"k":7,"t":79.3,"f":1.3},{"k":7,"t":80,"f":23.3},{"k":7,"t":80.6,"f":7.5},{"k":7,"t":81.5,"f":3},{"k":7,"t":83.5,"f":1.4},{"k":7,"t":86,"f":1.9},{"k":7,"t":88.5,"f":1.3},{"k":7,"t":91,"f":2},{"k":7,"t":93.5,"f":1.6},{"k":7,"t":96,"f":2.2},{"k":7,"t":98.5,"f":1.7},{"k":7,"t":101,"f":2.3},{"k":7,"t":103.5,"f":1.6},{"k":7,"t":106,"f":2.1},{"k":7,"t":108.5,"f":1.7},{"k":7,"t":111,"f":2.4},{"k":7,"t":113.5,"f":1.9},{"k":7,"t":116,"f":2.5},{"k":7,"t":118.5,"f":2},{"k":7,"t":121,"f":2.7},{"k":7,"t":123.5,"f":2.1},{"k":7,"t":126,"f":2.8},{"k":7,"t":128.5,"f":2.2},{"k":7,"t":131,"f":2.9},{"k":7,"t":133.5,"f":2.3},{"k":7,"t":136,"f":3},{"k":7,"t":138.5,"f":2.4},{"k":7,"t":141,"f":3.2},{"k":7,"t":143.5,"f":2.6},{"k":7,"t":146,"f":3.3},{"k":7,"t":148.5,"f":2.7},{"k":7,"t":151,"f":3.4},{"k":7,"t":153.5,"f":2.8},{"k":7,"t":156,"f":3.5},{"k":7,"t":158.5,"f":3},{"k":7,"t":161,"f":3.7},{"k":7,"t":163.5,"f":3.2},{"k":7,"t":166,"f":3.9},{"k":7,"t":168.5,"f":3.4},{"k":7,"t":171,"f":4},{"k":7,"t":173.5,"f":3.5},{"k":7,"t":176,"f":4.2},{"k":7,"t":178.5,"f":3.8},{"k":7,"t":179.8,"f":5},{"k":7,"t":180.7,"f":25},{"k":7,"t":181.5,"f":31.7},{"k":7,"t":182.4,"f":31},{"k":7,"t":183.3,"f":29},{"k":7,"t":183.8,"f":16},{"k":7,"t":184.3,"f":27},{"k":7,"t":184.8,"f":14},{"k":7,"t":185.3,"f":28},{"k":7,"t":185.8,"f":12},{"k":7,"t":186.3,"f":27},{"k":7,"t":186.8,"f":11},{"k":7,"t":187.3,"f":28},{"k":7,"t":187.8,"f":10},{"k":7,"t":188.3,"f":27},{"k":7,"t":188.8,"f":9},{"k":7,"t":189.3,"f":28},{"k":7,"t":189.8,"f":8},{"k":7,"t":190.3,"f":26},{"k":7,"t":190.8,"f":7},{"k":7,"t":191.3,"f":27},{"k":7,"t":191.8,"f":7},{"k":7,"t":192.4,"f":27},{"k":7,"t":193,"f":6},{"k":7,"t":193.6,"f":26},{"k":7,"t":194.2,"f":6},{"k":7,"t":194.8,"f":27},{"k":7,"t":195.4,"f":5},{"k":7,"t":196,"f":26},{"k":7,"t":196.7,"f":5},{"k":7,"t":197.4,"f":27},{"k":7,"t":198.1,"f":5},{"k":7,"t":198.8,"f":26},{"k":7,"t":199.5,"f":4.5},{"k":7,"t":200.4,"f":5},{"k":7,"t":201,"f":26},{"k":7,"t":201.6,"f":8},{"k":7,"t":202.5,"f":4},{"k":7,"t":204.5,"f":3.5},{"k":7,"t":205.1,"f":4},{"k":7,"t":205.6,"f":27},{"k":7,"t":206.2,"f":8},{"k":7,"t":207.3,"f":4},{"k":7,"t":208.8,"f":3.5},{"k":7,"t":209.3,"f":27},{"k":7,"t":209.9,"f":8},{"k":7,"t":211,"f":4},{"k":7,"t":212.9,"f":3.5},{"k":7,"t":213.4,"f":26},{"k":7,"t":214,"f":8},{"k":7,"t":215.2,"f":4},{"k":7,"t":217.1,"f":3.5},{"k":7,"t":217.6,"f":27},{"k":7,"t":218.2,"f":8},{"k":7,"t":219.4,"f":4},{"k":7,"t":221.2,"f":3.5},{"k":7,"t":221.7,"f":26},{"k":7,"t":222.3,"f":8},{"k":7,"t":223.5,"f":4},{"k":7,"t":226,"f":3.5},{"k":7,"t":226.5,"f":27},{"k":7,"t":227.1,"f":8},{"k":7,"t":228.3,"f":4},{"k":7,"t":231.2,"f":3.5},{"k":7,"t":231.7,"f":26},{"k":7,"t":232.3,"f":8},{"k":7,"t":233.5,"f":4.5},{"k":7,"t":237.1,"f":4},{"k":7,"t":237.6,"f":27},{"k":7,"t":238.3,"f":9},{"k":7,"t":239.5,"f":6},{"k":7,"t":241,"f":6.8},{"k":7,"t":243.5,"f":5.9},{"k":7,"t":246,"f":6.6},{"k":7,"t":248.5,"f":5.6},{"k":7,"t":251,"f":6.3},{"k":7,"t":253.5,"f":5.3},{"k":7,"t":256,"f":6.1},{"k":7,"t":258.5,"f":5.1},{"k":7,"t":261,"f":5.8},{"k":7,"t":263.5,"f":4.9},{"k":7,"t":266,"f":5.6},{"k":7,"t":268.5,"f":4.7},{"k":7,"t":271,"f":5.5},{"k":7,"t":273.5,"f":4.5},{"k":7,"t":276,"f":5.4},{"k":7,"t":278.5,"f":4.4},{"k":7,"t":281,"f":5.2},{"k":7,"t":283.5,"f":4.3},{"k":7,"t":286,"f":5.1},{"k":7,"t":288.5,"f":4.1},{"k":7,"t":291,"f":4.9},{"k":7,"t":293.5,"f":4},{"k":7,"t":296,"f":4.8},{"k":7,"t":298.5,"f":3.9},{"k":7,"t":301,"f":4.7},{"k":7,"t":303.5,"f":3.8},{"k":7,"t":306,"f":4.6},{"k":7,"t":308.5,"f":3.7},{"k":7,"t":311,"f":4.4},{"k":7,"t":313.5,"f":3.8},{"k":7,"t":315,"f":4.2},

{"k":8,"t":0,"f":4.7},{"k":8,"t":2,"f":4.1},{"k":8,"t":4,"f":4.3},{"k":8,"t":6,"f":3.6},{"k":8,"t":8,"f":3.8},{"k":8,"t":10,"f":3.1},{"k":8,"t":12,"f":3.3},{"k":8,"t":14,"f":2.8},{"k":8,"t":16,"f":3.1},{"k":8,"t":18,"f":2.7},{"k":8,"t":19.3,"f":4},{"k":8,"t":20.3,"f":25.3},{"k":8,"t":21.3,"f":18},{"k":8,"t":22.3,"f":8},{"k":8,"t":23.5,"f":3},{"k":8,"t":25,"f":1.9},{"k":8,"t":27,"f":2.5},{"k":8,"t":29,"f":1.9},{"k":8,"t":31,"f":2.6},{"k":8,"t":32.8,"f":2},{"k":8,"t":33.5,"f":26},{"k":8,"t":34.1,"f":8},{"k":8,"t":35,"f":3},{"k":8,"t":37,"f":1.9},{"k":8,"t":39,"f":2.5},{"k":8,"t":41,"f":1.9},{"k":8,"t":42.4,"f":2.4},{"k":8,"t":43.1,"f":23.7},{"k":8,"t":43.7,"f":7.5},{"k":8,"t":44.6,"f":3},{"k":8,"t":46.5,"f":1.9},{"k":8,"t":48.5,"f":2.6},{"k":8,"t":50,"f":2.1},{"k":8,"t":50.7,"f":22},{"k":8,"t":51.3,"f":7},{"k":8,"t":52.2,"f":3},{"k":8,"t":54,"f":1.9},{"k":8,"t":56,"f":2.5},{"k":8,"t":57.6,"f":2},{"k":8,"t":58.3,"f":22},{"k":8,"t":58.9,"f":7},{"k":8,"t":59.8,"f":3},{"k":8,"t":61.6,"f":1.9},{"k":8,"t":63.6,"f":2.5},{"k":8,"t":64.5,"f":2.1},{"k":8,"t":65.2,"f":22.7},{"k":8,"t":65.8,"f":7},{"k":8,"t":66.7,"f":3},{"k":8,"t":68.6,"f":2},{"k":8,"t":70.6,"f":2.6},{"k":8,"t":72.1,"f":2.1},{"k":8,"t":72.8,"f":22},{"k":8,"t":73.4,"f":7},{"k":8,"t":74.3,"f":3.2},{"k":8,"t":76.5,"f":2.3},{"k":8,"t":79,"f":3.1},{"k":8,"t":81.5,"f":2.4},{"k":8,"t":84,"f":3.2},{"k":8,"t":86.5,"f":2.5},{"k":8,"t":89,"f":3.3},{"k":8,"t":91.5,"f":2.4},{"k":8,"t":94,"f":3.2},{"k":8,"t":96.5,"f":2.5},{"k":8,"t":99,"f":3.4},{"k":8,"t":101.5,"f":2.4},{"k":8,"t":104,"f":3.3},{"k":8,"t":106.5,"f":2.6},{"k":8,"t":109,"f":3.4},{"k":8,"t":111.5,"f":2.5},{"k":8,"t":114,"f":3.2},{"k":8,"t":116.5,"f":2.4},{"k":8,"t":119,"f":3.3},{"k":8,"t":121.5,"f":2.6},{"k":8,"t":124,"f":3.5},{"k":8,"t":126.5,"f":2.5},{"k":8,"t":129,"f":3.4},{"k":8,"t":131.5,"f":2.7},{"k":8,"t":134,"f":3.3},{"k":8,"t":136.5,"f":2.6},{"k":8,"t":139,"f":3.5},{"k":8,"t":141.5,"f":2.5},{"k":8,"t":144,"f":3.4},{"k":8,"t":146.5,"f":2.7},{"k":8,"t":149,"f":3.5},{"k":8,"t":151.5,"f":2.8},{"k":8,"t":154,"f":3.6},{"k":8,"t":156.5,"f":2.9},{"k":8,"t":159,"f":3.7},{"k":8,"t":160.8,"f":3.5},{"k":8,"t":161.7,"f":20},{"k":8,"t":162.5,"f":26},{"k":8,"t":163.5,"f":25.5},{"k":8,"t":164.5,"f":26},{"k":8,"t":165.2,"f":22},{"k":8,"t":165.7,"f":10},{"k":8,"t":166.2,"f":24},{"k":8,"t":166.7,"f":9},{"k":8,"t":167.2,"f":23},{"k":8,"t":167.7,"f":8},{"k":8,"t":168.2,"f":24},{"k":8,"t":168.7,"f":8},{"k":8,"t":169.2,"f":23},{"k":8,"t":169.7,"f":7},{"k":8,"t":170.2,"f":22},{"k":8,"t":170.7,"f":7},{"k":8,"t":171.3,"f":23},{"k":8,"t":171.8,"f":6},{"k":8,"t":172.4,"f":22},{"k":8,"t":173,"f":6},{"k":8,"t":173.6,"f":23},{"k":8,"t":174.2,"f":5.5},{"k":8,"t":174.8,"f":22},{"k":8,"t":175.4,"f":5.5},{"k":8,"t":176,"f":23},{"k":8,"t":176.6,"f":5},{"k":8,"t":177.2,"f":22},{"k":8,"t":177.9,"f":5},{"k":8,"t":178.6,"f":23},{"k":8,"t":179.3,"f":5},{"k":8,"t":180,"f":22},{"k":8,"t":180.7,"f":5},{"k":8,"t":181.4,"f":23},{"k":8,"t":182.1,"f":5},{"k":8,"t":182.8,"f":22},{"k":8,"t":183.5,"f":5},{"k":8,"t":184.2,"f":23},{"k":8,"t":185,"f":5},{"k":8,"t":185.8,"f":22},{"k":8,"t":186.6,"f":5},{"k":8,"t":187.5,"f":4.5},{"k":8,"t":188.8,"f":5},{"k":8,"t":189.3,"f":22},{"k":8,"t":189.9,"f":7},{"k":8,"t":191,"f":4.5},{"k":8,"t":192.9,"f":5},{"k":8,"t":193.4,"f":23},{"k":8,"t":194,"f":7},{"k":8,"t":195.1,"f":4.5},{"k":8,"t":197.1,"f":5},{"k":8,"t":197.6,"f":22},{"k":8,"t":198.2,"f":7},{"k":8,"t":199.3,"f":4.5},{"k":8,"t":201.2,"f":5},{"k":8,"t":201.7,"f":23},{"k":8,"t":202.3,"f":7},{"k":8,"t":203.4,"f":4.5},{"k":8,"t":205.4,"f":5},{"k":8,"t":205.9,"f":22},{"k":8,"t":206.5,"f":7},{"k":8,"t":207.6,"f":4.5},{"k":8,"t":209.5,"f":5},{"k":8,"t":210,"f":22},{"k":8,"t":210.6,"f":7},{"k":8,"t":211.7,"f":4.5},{"k":8,"t":214,"f":5},{"k":8,"t":214.5,"f":22},{"k":8,"t":215.1,"f":7},{"k":8,"t":216.2,"f":4.5},{"k":8,"t":218.8,"f":5},{"k":8,"t":219.3,"f":21},{"k":8,"t":219.9,"f":7},{"k":8,"t":221.2,"f":5},{"k":8,"t":223.8,"f":4.9},{"k":8,"t":226,"f":5.6},{"k":8,"t":228.5,"f":4.8},{"k":8,"t":231,"f":5.4},{"k":8,"t":233.5,"f":4.5},{"k":8,"t":236,"f":5.1},{"k":8,"t":238.5,"f":4.2},{"k":8,"t":241,"f":4.9},{"k":8,"t":243.5,"f":3.9},{"k":8,"t":246,"f":4.6},{"k":8,"t":248.5,"f":3.7},{"k":8,"t":251,"f":4.4},{"k":8,"t":253.5,"f":3.5},{"k":8,"t":256,"f":4.2},{"k":8,"t":258.5,"f":3.4},{"k":8,"t":261,"f":4.1},{"k":8,"t":263.5,"f":3.2},{"k":8,"t":266,"f":4},{"k":8,"t":268.5,"f":3.1},{"k":8,"t":271,"f":3.9},{"k":8,"t":273.5,"f":3},{"k":8,"t":276,"f":3.8},{"k":8,"t":278.5,"f":2.9},{"k":8,"t":281,"f":3.7},{"k":8,"t":283.5,"f":2.8},{"k":8,"t":286,"f":3.6},{"k":8,"t":288.5,"f":2.7},{"k":8,"t":291,"f":3.5},{"k":8,"t":293.5,"f":2.6},{"k":8,"t":296,"f":3.4},{"k":8,"t":298.5,"f":2.5},{"k":8,"t":301,"f":3.3},{"k":8,"t":303.5,"f":2.4},{"k":8,"t":306,"f":3.2},{"k":8,"t":308.5,"f":2.3},{"k":8,"t":311,"f":3.1},{"k":8,"t":313.5,"f":2.2},{"k":8,"t":315,"f":2.8}
]
},
"layer": [
{"data": {"name": "traces"},
 "transform": [{"calculate": "datum.f - datum.k * 52", "as": "y"}],
 "mark": {"type": "line", "color": "#000"},
 "encoding": {
  "x": {"field": "t", "type": "quantitative", "scale": {"domain": [-69.3, 365.2], "nice": false, "zero": false}, "axis": null},
  "y": {"field": "y", "type": "quantitative", "scale": {"domain": [-454, 88], "nice": false, "zero": false}, "axis": null},
  "detail": {"field": "k", "type": "nominal"},
  "strokeWidth": {"field": "k", "type": "ordinal", "scale": {"domain": [0,1,2,3,4,5,6,7,8], "range": [1,1.1,1.8,1.1,1,1.9,1.9,1.8,1.8]}, "legend": null},
  "order": {"field": "t", "type": "quantitative"}
 }},
{"data": {"name": "labels"},
 "transform": [{"calculate": "4 - datum.k * 52", "as": "ly"}],
 "mark": {"type": "text", "align": "right", "baseline": "alphabetic", "fontSize": 14},
 "encoding": {
  "x": {"datum": -10.3, "type": "quantitative", "scale": {"domain": [-69.3, 365.2], "nice": false, "zero": false}, "axis": null},
  "y": {"field": "ly", "type": "quantitative", "scale": {"domain": [-454, 88], "nice": false, "zero": false}, "axis": null},
  "text": {"field": "name"}
 }},
{"data": {"values": [{}]},
 "mark": {"type": "text", "align": "center", "baseline": "alphabetic", "fontSize": 14, "text": "luciferase"},
 "encoding": {"x": {"datum": -23.8, "type": "quantitative", "scale": {"domain": [-69.3, 365.2], "nice": false, "zero": false}, "axis": null}, "y": {"datum": 75.6, "type": "quantitative", "scale": {"domain": [-454, 88], "nice": false, "zero": false}, "axis": null}}},
{"data": {"values": [{}]},
 "mark": {"type": "text", "align": "center", "baseline": "alphabetic", "fontSize": 14, "text": "luminescence"},
 "encoding": {"x": {"datum": -23.3, "type": "quantitative", "scale": {"domain": [-69.3, 365.2], "nice": false, "zero": false}, "axis": null}, "y": {"datum": 59.2, "type": "quantitative", "scale": {"domain": [-454, 88], "nice": false, "zero": false}, "axis": null}}},
{"data": {"values": [{}]},
 "mark": {"type": "text", "align": "center", "baseline": "alphabetic", "fontSize": 14, "text": "(cps)"},
 "encoding": {"x": {"datum": -31, "type": "quantitative", "scale": {"domain": [-69.3, 365.2], "nice": false, "zero": false}, "axis": null}, "y": {"datum": 42, "type": "quantitative", "scale": {"domain": [-454, 88], "nice": false, "zero": false}, "axis": null}}},
{"data": {"values": [{}]},
 "mark": {"type": "text", "align": "left", "baseline": "alphabetic", "fontSize": 14, "text": "Ca"},
 "encoding": {"x": {"datum": 82.8, "type": "quantitative", "scale": {"domain": [-69.3, 365.2], "nice": false, "zero": false}, "axis": null}, "y": {"datum": 63, "type": "quantitative", "scale": {"domain": [-454, 88], "nice": false, "zero": false}, "axis": null}}},
{"data": {"values": [{}]},
 "mark": {"type": "text", "align": "left", "baseline": "alphabetic", "fontSize": 9, "text": "2+"},
 "encoding": {"x": {"datum": 102.4, "type": "quantitative", "scale": {"domain": [-69.3, 365.2], "nice": false, "zero": false}, "axis": null}, "y": {"datum": 68.5, "type": "quantitative", "scale": {"domain": [-454, 88], "nice": false, "zero": false}, "axis": null}}},
{"data": {"values": [{}]},
 "mark": {"type": "text", "align": "left", "baseline": "alphabetic", "fontSize": 14, "text": "oscillations"},
 "encoding": {"x": {"datum": 115.9, "type": "quantitative", "scale": {"domain": [-69.3, 365.2], "nice": false, "zero": false}, "axis": null}, "y": {"datum": 63, "type": "quantitative", "scale": {"domain": [-454, 88], "nice": false, "zero": false}, "axis": null}}},
{"data": {"values": [{}]},
 "mark": {"type": "text", "align": "left", "baseline": "alphabetic", "fontSize": 14, "text": "n=150"},
 "encoding": {"x": {"datum": 206.9, "type": "quantitative", "scale": {"domain": [-69.3, 365.2], "nice": false, "zero": false}, "axis": null}, "y": {"datum": 63, "type": "quantitative", "scale": {"domain": [-454, 88], "nice": false, "zero": false}, "axis": null}}},
{"data": {"values": [{}]},
 "mark": {"type": "text", "align": "center", "baseline": "alphabetic", "fontSize": 16, "angle": 270, "text": "Fluorescence"},
 "encoding": {"x": {"datum": 362.1, "type": "quantitative", "scale": {"domain": [-69.3, 365.2], "nice": false, "zero": false}, "axis": null}, "y": {"datum": -227, "type": "quantitative", "scale": {"domain": [-454, 88], "nice": false, "zero": false}, "axis": null}}},
{"data": {"values": [{}]},
 "mark": {"type": "rule", "color": "#000", "strokeWidth": 1.2},
 "encoding": {"x": {"datum": 343.5, "type": "quantitative", "scale": {"domain": [-69.3, 365.2], "nice": false, "zero": false}, "axis": null}, "y": {"datum": -71, "type": "quantitative", "scale": {"domain": [-454, 88], "nice": false, "zero": false}, "axis": null}, "y2": {"datum": -335}}},
{"data": {"values": [{}]},
 "mark": {"type": "point", "shape": "M0,-1L0.75,1L-0.75,1Z", "filled": true, "color": "#000", "opacity": 1, "size": 45},
 "encoding": {"x": {"datum": 343.5, "type": "quantitative", "scale": {"domain": [-69.3, 365.2], "nice": false, "zero": false}, "axis": null}, "y": {"datum": -70.3, "type": "quantitative", "scale": {"domain": [-454, 88], "nice": false, "zero": false}, "axis": null}}},
{"data": {"values": [{}]},
 "mark": {"type": "rule", "color": "#222", "strokeWidth": 1},
 "encoding": {"x": {"datum": 251.4, "type": "quantitative", "scale": {"domain": [-69.3, 365.2], "nice": false, "zero": false}, "axis": null}, "x2": {"datum": 311.4}, "y": {"datum": -431, "type": "quantitative", "scale": {"domain": [-454, 88], "nice": false, "zero": false}, "axis": null}}},
{"data": {"values": [{}]},
 "mark": {"type": "text", "align": "center", "baseline": "alphabetic", "fontSize": 14, "text": "1 hour"},
 "encoding": {"x": {"datum": 284.5, "type": "quantitative", "scale": {"domain": [-69.3, 365.2], "nice": false, "zero": false}, "axis": null}, "y": {"datum": -450, "type": "quantitative", "scale": {"domain": [-454, 88], "nice": false, "zero": false}, "axis": null}}}
]
}
